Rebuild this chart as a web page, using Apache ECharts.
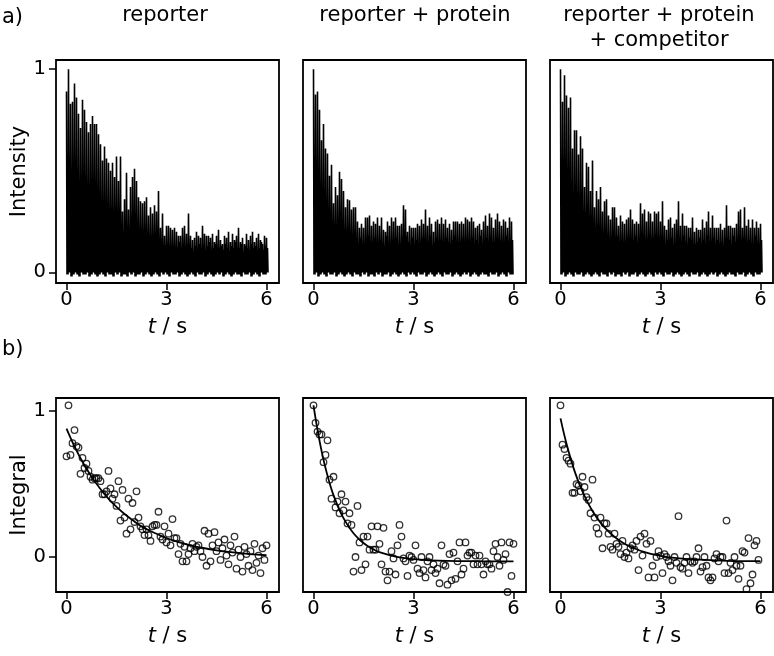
<!DOCTYPE html>
<html><head><meta charset="utf-8">
<script src="https://cdn.jsdelivr.net/npm/echarts@6.0.0/dist/echarts.min.js"></script>
<style>html,body{margin:0;padding:0;background:#fff}#c{width:774px;height:656px}</style>
</head><body><div id="c"></div>
<script>
const titles = ['reporter', 'reporter + protein', 'reporter + protein\n+ competitor'];
const xTicks = [0, 3, 6];
const yTicks = [0, 1];
const dt = 0.06;

// a) intensity trace: pulse peak heights
const peaks1 = [0.89,1.0,0.83,0.84,0.93,0.86,0.78,0.71,0.85,0.80,
0.74,0.69,0.73,0.77,0.73,0.73,0.68,0.63,0.55,0.62,
0.56,0.54,0.50,0.54,0.47,0.57,0.45,0.57,0.30,0.36,
0.49,0.31,0.42,0.47,0.51,0.45,0.37,0.35,0.34,0.35,
0.37,0.28,0.32,0.29,0.33,0.30,0.40,0.22,0.29,0.18,
0.23,0.23,0.22,0.21,0.22,0.20,0.18,0.18,0.22,0.23,
0.19,0.29,0.18,0.16,0.17,0.20,0.18,0.17,0.23,0.19,
0.18,0.18,0.17,0.19,0.15,0.18,0.21,0.16,0.14,0.18,
0.17,0.20,0.15,0.19,0.16,0.18,0.22,0.15,0.17,0.14,
0.19,0.16,0.18,0.20,0.15,0.17,0.19,0.16,0.14,0.18,0.17];
const peaks2 = [1.0,0.875,0.89,0.80,0.65,0.73,0.61,0.585,0.475,0.53,
0.34,0.42,0.38,0.495,0.46,0.40,0.32,0.36,0.355,0.31,
0.32,0.32,0.25,0.22,0.24,0.22,0.27,0.27,0.28,0.23,
0.25,0.24,0.27,0.23,0.27,0.21,0.20,0.25,0.23,0.27,
0.25,0.27,0.23,0.23,0.24,0.33,0.31,0.20,0.23,0.22,
0.22,0.22,0.24,0.23,0.26,0.24,0.31,0.23,0.27,0.24,
0.20,0.25,0.26,0.24,0.27,0.24,0.26,0.22,0.24,0.21,
0.25,0.25,0.25,0.24,0.25,0.24,0.27,0.26,0.25,0.27,
0.25,0.22,0.23,0.24,0.21,0.25,0.28,0.23,0.29,0.27,
0.22,0.26,0.29,0.25,0.23,0.26,0.25,0.22,0.27,0.25];
const peaks3 = [1.0,0.84,0.97,0.87,0.81,0.86,0.61,0.70,0.70,0.58,
0.67,0.61,0.42,0.54,0.52,0.40,0.55,0.32,0.40,0.36,
0.42,0.30,0.35,0.36,0.28,0.26,0.32,0.32,0.27,0.23,
0.28,0.25,0.24,0.26,0.27,0.31,0.26,0.24,0.25,0.24,
0.34,0.29,0.31,0.25,0.30,0.29,0.25,0.30,0.29,0.30,
0.25,0.35,0.23,0.21,0.26,0.27,0.22,0.24,0.26,0.35,
0.23,0.29,0.23,0.23,0.22,0.22,0.27,0.20,0.22,0.21,
0.21,0.26,0.22,0.25,0.30,0.22,0.28,0.22,0.22,0.22,
0.24,0.21,0.22,0.33,0.23,0.23,0.22,0.22,0.24,0.30,
0.31,0.22,0.32,0.23,0.26,0.22,0.26,0.22,0.25,0.22,0.24];
// a) background noise tops between pulses
const noise1 = [0.12,0.14,0.10,0.13,0.15,0.11,0.12,0.09,0.14,0.13,
0.11,0.15,0.12,0.10,0.13,0.14,0.12,0.11,0.16,0.12,
0.10,0.13,0.12,0.15,0.11,0.09,0.13,0.14,0.12,0.10,
0.15,0.11,0.12,0.13,0.10,0.14,0.12,0.11,0.13,0.09,
0.12,0.14,0.11,0.13,0.12,0.10,0.15,0.12,0.11,0.13,
0.14,0.10,0.12,0.13,0.11,0.12,0.15,0.10,0.13,0.12,
0.11,0.14,0.12,0.09,0.13,0.12,0.14,0.11,0.12,0.10,
0.13,0.15,0.11,0.12,0.14,0.10,0.12,0.13,0.11,0.14,
0.12,0.10,0.13,0.12,0.15,0.11,0.12,0.14,0.10,0.13,
0.12,0.11,0.14,0.12,0.13,0.10,0.12,0.15,0.11,0.13,0.12];
const noise2 = [0.14,0.17,0.12,0.15,0.18,0.13,0.16,0.11,0.15,0.17,
0.13,0.16,0.14,0.12,0.17,0.15,0.13,0.18,0.14,0.12,
0.16,0.15,0.13,0.17,0.14,0.11,0.16,0.18,0.13,0.15,
0.17,0.12,0.14,0.16,0.15,0.13,0.18,0.14,0.12,0.16,
0.15,0.17,0.13,0.14,0.16,0.12,0.18,0.15,0.13,0.17,
0.14,0.16,0.12,0.15,0.17,0.13,0.16,0.14,0.18,0.12,
0.15,0.17,0.13,0.16,0.14,0.12,0.17,0.15,0.13,0.16,
0.18,0.14,0.12,0.15,0.17,0.13,0.16,0.14,0.15,0.17,
0.12,0.16,0.14,0.18,0.13,0.15,0.17,0.12,0.16,0.14,
0.15,0.13,0.17,0.16,0.12,0.14,0.18,0.15,0.13,0.16];
const noise3 = [0.15,0.12,0.17,0.14,0.16,0.13,0.18,0.12,0.15,0.16,
0.14,0.11,0.17,0.15,0.13,0.16,0.14,0.18,0.12,0.15,
0.17,0.13,0.16,0.14,0.12,0.17,0.15,0.13,0.18,0.14,
0.16,0.12,0.15,0.17,0.13,0.14,0.16,0.18,0.12,0.15,
0.14,0.17,0.13,0.16,0.15,0.12,0.17,0.14,0.16,0.13,
0.18,0.15,0.12,0.16,0.14,0.17,0.13,0.15,0.16,0.12,
0.14,0.18,0.15,0.13,0.17,0.16,0.12,0.14,0.15,0.17,
0.13,0.16,0.14,0.18,0.12,0.15,0.17,0.13,0.16,0.14,
0.15,0.12,0.17,0.14,0.16,0.13,0.18,0.15,0.12,0.16,
0.14,0.17,0.13,0.15,0.16,0.12,0.14,0.18,0.15,0.13,0.16];
// a) trace floor between pulses
const floorVals = [-0.01,0.00,-0.02,-0.01,0.00,-0.01,-0.02,0.00,-0.01,-0.01,
0.00,-0.02,-0.01,0.00,-0.01,-0.02,-0.01,0.00,-0.01,-0.02,
0.00,-0.01,-0.01,-0.02,0.00,-0.01,0.00,-0.02,-0.01,-0.01,
-0.02,0.00,-0.01,0.00,-0.02,-0.01,-0.01,0.00,-0.02,-0.01,
0.00,-0.01,-0.02,-0.01,0.00,-0.01,-0.02,0.00,-0.01,0.00,
-0.01,-0.02,0.00,-0.01,-0.01,0.00,-0.02,-0.01,0.00,-0.01,
-0.02,-0.01,0.00,-0.01,-0.02,0.00,-0.01,-0.01,0.00,-0.02,
-0.01,0.00,-0.01,-0.02,-0.01,0.00,-0.01,0.00,-0.02,-0.01,
0.00,-0.01,-0.02,-0.01,0.00,-0.01,-0.01,-0.02,0.00,-0.01,
-0.01,0.00,-0.02,-0.01,0.00,-0.01,-0.02,0.00,-0.01,-0.01,0.00];

// b) integrals
const integ1 = [0.69,1.04,0.70,0.78,0.87,0.76,0.75,0.57,0.68,0.61,
0.64,0.59,0.55,0.53,0.54,0.54,0.54,0.52,0.43,0.43,
0.45,0.59,0.47,0.40,0.43,0.35,0.52,0.25,0.46,0.27,
0.16,0.40,0.19,0.37,0.24,0.45,0.27,0.21,0.19,0.15,
0.19,0.15,0.11,0.21,0.22,0.22,0.31,0.14,0.12,0.21,
0.10,0.16,0.08,0.26,0.13,0.13,0.02,0.09,-0.03,0.07,
-0.03,0.02,0.06,0.09,0.04,0.07,0.08,0.04,0.00,0.18,
-0.06,0.16,-0.03,0.08,0.17,0.04,0.10,-0.02,0.06,0.12,
0.01,-0.05,0.08,0.03,0.14,-0.08,0.05,0.00,-0.10,0.07,
0.02,-0.06,0.04,-0.09,0.09,-0.04,0.01,-0.11,0.06,-0.02,0.08];
const integ2 = [1.04,0.92,0.86,0.84,0.84,0.65,0.70,0.80,0.53,0.40,
0.55,0.34,0.38,0.30,0.43,0.32,0.38,0.23,0.30,0.22,
-0.10,0.00,0.35,0.10,-0.09,0.14,-0.05,0.14,0.05,0.21,
0.05,0.05,0.21,0.09,-0.05,0.20,-0.10,-0.16,-0.10,0.04,
-0.01,-0.12,0.08,0.22,0.14,-0.01,-0.03,-0.13,0.01,0.00,
-0.02,0.08,-0.08,-0.11,0.00,-0.09,-0.14,-0.03,0.00,-0.09,
-0.05,-0.11,-0.08,-0.18,0.08,-0.05,-0.06,-0.19,0.02,-0.16,
0.03,-0.15,-0.03,0.10,-0.12,-0.08,0.10,0.01,0.03,0.03,
-0.05,0.01,-0.05,0.01,-0.05,-0.12,-0.03,-0.05,-0.05,-0.08,
0.04,0.09,0.00,-0.06,0.10,-0.02,0.02,-0.24,0.10,-0.13,0.09];
const integ3 = [1.04,0.77,0.74,0.68,0.66,0.64,0.44,0.44,0.50,0.49,
0.45,0.55,0.48,0.41,0.39,0.30,0.53,0.27,0.20,0.16,
0.27,0.06,0.23,0.23,0.16,0.07,0.05,0.16,0.09,0.07,
0.02,0.11,0.00,0.03,-0.01,0.06,0.08,0.05,0.11,-0.09,
0.14,0.01,0.16,0.09,-0.14,0.11,-0.06,-0.14,0.00,0.04,
0.01,-0.11,0.02,0.00,-0.03,-0.06,-0.16,0.00,-0.04,0.28,
-0.07,-0.08,-0.04,0.00,-0.11,-0.03,-0.04,-0.03,0.00,0.06,
-0.10,-0.07,0.00,-0.06,-0.14,-0.16,-0.14,-0.01,0.02,-0.03,
0.00,0.00,-0.11,0.25,-0.11,-0.04,-0.09,0.00,-0.06,-0.15,
-0.06,0.04,0.03,-0.22,0.13,-0.18,-0.12,0.08,0.11,-0.02];

// b) fitted decay curves (read off the picture)
const fitT1 = [0,0.25,0.5,0.75,1,1.25,1.5,1.75,2,2.25,2.5,2.75,3,3.25,3.5,3.75,4,4.5,5,5.5,6];
const fitV1 = [0.88,0.753,0.644,0.551,0.471,0.402,0.343,0.293,0.25,0.21,0.18,0.154,0.13,0.11,0.093,0.078,0.066,0.046,0.031,0.02,0.012];
const fitT2 = [0,0.1,0.2,0.3,0.4,0.5,0.6,0.8,1.0,1.2,1.4,1.6,1.8,2.0,2.5,3.0,3.5,4,5,6];
const fitV2 = [1.04,0.898,0.774,0.667,0.575,0.494,0.424,0.311,0.227,0.163,0.115,0.079,0.052,0.031,0.0,-0.015,-0.023,-0.027,-0.029,-0.03];
const fitT3 = [0,0.1,0.2,0.3,0.4,0.5,0.6,0.8,1.0,1.2,1.4,1.6,1.8,2.0,2.5,3.0,3.5,4,5,6];
const fitV3 = [0.95,0.849,0.759,0.678,0.604,0.539,0.481,0.381,0.30,0.236,0.184,0.142,0.108,0.081,0.035,0.008,-0.008,-0.017,-0.026,-0.029];

const peaks = [peaks1, peaks2, peaks3];
const noises = [noise1, noise2, noise3];
const integs = [integ1, integ2, integ3];
const fits = [[fitT1, fitV1], [fitT2, fitV2], [fitT3, fitV3]];

function traceData(pk, nz) {
  const d = [];
  pk.forEach((p, i) => {
    const t = i * dt;
    const f = floorVals[i % floorVals.length];
    d.push([t, p], [t + dt * 0.25, f], [t + dt * 0.5, nz[i % nz.length]], [t + dt * 0.75, f]);
  });
  return d;
}

const FONT = 'DejaVu Sans';
const cols = [56, 303, 550];
const W = 223;
const rows = [{top: 60, h: 223, min: -0.052, max: 1.045, name: 'Intensity'},
              {top: 398, h: 194, min: -0.24, max: 1.09, name: 'Integral'}];

const grid = [], xAxis = [], yAxis = [], series = [];
rows.forEach((r, ri) => {
  cols.forEach((left, ci) => {
    const gi = ri * 3 + ci;
    grid.push({left: left, top: r.top, width: W, height: r.h, show: true,
      borderColor: '#000', borderWidth: 1.8, backgroundColor: 'transparent'});
    xAxis.push({type: 'value', gridIndex: gi, min: -0.315, max: 6.375, position: 'bottom',
      axisLine: {show: false, onZero: false},
      axisTick: {show: true, customValues: xTicks, length: 7, lineStyle: {color: '#000', width: 1.5}},
      axisLabel: {customValues: xTicks, color: '#000', fontSize: 19.5, fontFamily: FONT, margin: 7},
      splitLine: {show: false},
      name: '{i|t} / s', nameLocation: 'middle', nameGap: 34,
      nameTextStyle: {color: '#000', fontSize: 21, fontFamily: FONT,
        rich: {i: {fontStyle: 'italic', fontSize: 21, fontFamily: FONT, color: '#000'}}}
    });
    yAxis.push({type: 'value', gridIndex: gi, min: r.min, max: r.max, position: 'left',
      axisLine: {show: false, onZero: false},
      axisTick: {show: ci === 0, customValues: yTicks, length: 7, lineStyle: {color: '#000', width: 1.5}},
      axisLabel: {show: ci === 0, customValues: yTicks, color: '#000', fontSize: 19.5, fontFamily: FONT, margin: 10},
      splitLine: {show: false},
      name: ci === 0 ? r.name : '', nameLocation: 'middle', nameGap: 24,
      nameTextStyle: {color: '#000', fontSize: 21, fontFamily: FONT}
    });
    if (ri === 0) {
      series.push({type: 'line', xAxisIndex: gi, yAxisIndex: gi, data: traceData(peaks[ci], noises[ci]),
        showSymbol: false, symbol: 'none', sampling: null, lineStyle: {color: '#000', width: 1.6},
        animation: false, silent: true, z: 2});
    } else {
      series.push({type: 'scatter', xAxisIndex: gi, yAxisIndex: gi,
        data: integs[ci].map((v, i) => [i * dt, v]),
        symbol: 'circle', symbolSize: 6.5,
        itemStyle: {color: 'rgba(0,0,0,0)', borderColor: '#000', borderWidth: 1.3},
        animation: false, silent: true, z: 2});
      const ft = fits[ci];
      series.push({type: 'line', xAxisIndex: gi, yAxisIndex: gi,
        data: ft[0].map((t, i) => [t, ft[1][i]]), smooth: 0.4,
        showSymbol: false, symbol: 'none', lineStyle: {color: '#000', width: 1.8},
        animation: false, silent: true, z: 3});
    }
  });
});

const titleX = [165, 415, 659];
const graphic = [];
titles.forEach((t, i) => {
  graphic.push({type: 'text', x: titleX[i], y: 3,
    style: {text: t, fill: '#000', font: '21px "DejaVu Sans"', textAlign: 'center', textVerticalAlign: 'top', lineHeight: 25}});
});
graphic.push({type: 'text', x: 2, y: 7, style: {text: 'a)', fill: '#000', font: '21px "DejaVu Sans"', textVerticalAlign: 'top'}});
graphic.push({type: 'text', x: 2, y: 339, style: {text: 'b)', fill: '#000', font: '21px "DejaVu Sans"', textVerticalAlign: 'top'}});

const chart = echarts.init(document.getElementById('c'), null, {renderer: 'canvas'});
chart.setOption({animation: false, backgroundColor: '#fff', grid, xAxis, yAxis, series, graphic});
</script></body></html>
